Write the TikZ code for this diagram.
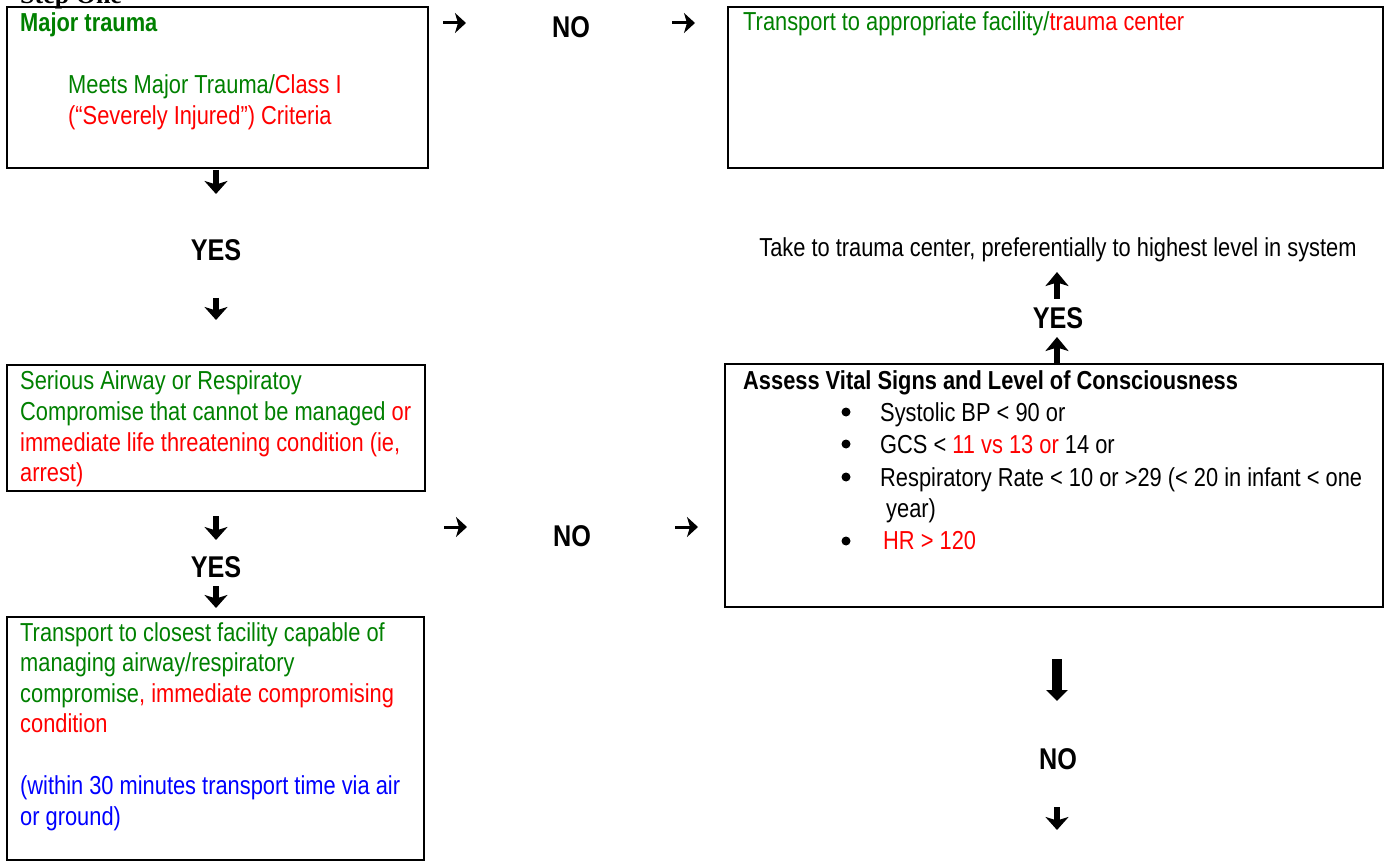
\documentclass[tikz,border=0pt]{standalone}
\usepackage{fontspec}
\setmainfont{Liberation Sans}[FakeStretch=0.84]
\newfontfamily\stepfont{Liberation Serif}[BoldFont={Liberation Serif Bold}]
\usetikzlibrary{arrows.meta}
\definecolor{tgreen}{RGB}{0,128,0}
\definecolor{tred}{RGB}{255,0,0}
\definecolor{tblue}{RGB}{0,0,255}
\tikzset{
  box/.style={draw=black, line width=2pt},
  txt/.style={anchor=base west, inner sep=0pt, font=\fontsize{26}{31}\selectfont},
  ctxt/.style={anchor=base, inner sep=0pt, font=\fontsize{26}{31}\selectfont},
  lbl/.style={anchor=base, inner sep=0pt, font=\fontsize{30}{34}\selectfont\bfseries},
  darr/.style={line width=5.5pt, -{Stealth[length=13pt,width=23pt,inset=3.5pt]}},
  harr/.style={line width=3pt, -{Stealth[length=11pt,width=20pt,inset=3pt]}},
  uarr/.style={line width=6.5pt, -{Stealth[length=14pt,width=23pt,inset=3.5pt]}},
  bigarr/.style={line width=10pt, -{Triangle[length=11pt,width=21pt]}},
  bullet/.style={circle, fill=black, inner sep=0pt, minimum size=9pt},
}
\begin{document}
\begin{tikzpicture}[x=1pt,y=-1pt]
\useasboundingbox (0,0) rectangle (1385,861);
\clip (0,0) rectangle (1385,861);
% Step One (cut off at top)
\node[anchor=base west, inner sep=0pt, font=\fontsize{26}{31}\stepfont\bfseries] (step) at (20,4) {Step One};
% Box 1
\draw[box] (7,7) rectangle (428,168);
\node[txt, font=\fontsize{26}{31}\selectfont\bfseries, text=tgreen] (b1h) at (20,32) {Major trauma};
\node[txt] (b1a) at (68,94) {\textcolor{tgreen}{Meets Major Trauma/}\textcolor{tred}{Class I}};
\node[txt, text=tred] (b1b) at (68,125) {(“Severely Injured”) Criteria};
% top NO row
\coordinate (h1s) at (443,23); \coordinate (h1e) at (466,23);
\draw[harr] (h1s) -- (h1e);
\node[lbl] (no1) at (571,38) {NO};
\coordinate (h2s) at (672,23); \coordinate (h2e) at (695,23);
\draw[harr] (h2s) -- (h2e);
% Box 2
\draw[box] (728,7) rectangle (1383,168);
\node[txt] (b2) at (743,31) {\textcolor{tgreen}{Transport to appropriate facility/}\textcolor{tred}{trauma center}};
% left column YES
\coordinate (d1s) at (216,170); \coordinate (d1e) at (216,194);
\draw[darr] (d1s) -- (d1e);
\node[lbl] (yes1) at (216,261) {YES};
\coordinate (d2s) at (216,298); \coordinate (d2e) at (216,320);
\draw[darr] (d2s) -- (d2e);
% Box 3
\draw[box] (7,365) rectangle (425,491);
\node[txt, text=tgreen] (b3a) at (20,389) {Serious Airway or Respiratoy};
\node[txt] (b3b) at (20,420) {\textcolor{tgreen}{Compromise that cannot be managed} \textcolor{tred}{or}};
\node[txt, text=tred] (b3c) at (20,451) {immediate life threatening condition (ie,};
\node[txt, text=tred] (b3d) at (20,481) {arrest)};
% lower YES / NO row
\coordinate (d3s) at (216,516); \coordinate (d3e) at (216,540);
\draw[darr] (d3s) -- (d3e);
\node[lbl] (yes2) at (216,577) {YES};
\coordinate (d4s) at (216,586); \coordinate (d4e) at (216,608);
\draw[darr] (d4s) -- (d4e);
\coordinate (h3s) at (444,527); \coordinate (h3e) at (467,527);
\draw[harr] (h3s) -- (h3e);
\node[lbl] (no2) at (572,546) {NO};
\coordinate (h4s) at (675,527); \coordinate (h4e) at (698,527);
\draw[harr] (h4s) -- (h4e);
% Box 4
\draw[box] (7,617) rectangle (424,860);
\node[txt, text=tgreen] (b4a) at (20,641) {Transport to closest facility capable of};
\node[txt, text=tgreen] (b4b) at (20,671) {managing airway/respiratory};
\node[txt] (b4c) at (20,702) {\textcolor{tgreen}{compromise}\textcolor{tred}{, immediate compromising}};
\node[txt, text=tred] (b4d) at (20,732) {condition};
\node[txt, text=tblue] (b4e) at (20,794) {(within 30 minutes transport time via air};
\node[txt, text=tblue] (b4f) at (20,825) {or ground)};
% right column
\node[ctxt] (take) at (1058,257) {Take to trauma center, preferentially to highest level in system};
\coordinate (u1s) at (1057,299); \coordinate (u1e) at (1057,272);
\draw[uarr] (u1s) -- (u1e);
\node[lbl] (yes3) at (1058,328) {YES};
\coordinate (u2s) at (1057,365); \coordinate (u2e) at (1057,337);
\draw[uarr] (u2s) -- (u2e);
% Box 5
\draw[box] (725,364) rectangle (1383,607);
\node[txt, font=\fontsize{26}{31}\selectfont\bfseries] (b5h) at (743,389) {Assess Vital Signs and Level of Consciousness};
\node[bullet] (p1) at (846,412) {};
\node[txt] (b5a) at (880,421) {Systolic BP < 90 or};
\node[bullet] (p2) at (846,444) {};
\node[txt] (b5b) at (880,453) {GCS < \textcolor{tred}{11 vs 13 or} 14 or};
\node[bullet] (p3) at (846,477) {};
\node[txt] (b5c) at (880,486) {Respiratory Rate < 10 or >29 (< 20 in infant < one};
\node[txt] (b5d) at (886,517) {year)};
\node[bullet] (p4) at (846,541) {};
\node[txt, text=tred] (b5e) at (883,549) {HR > 120};
% bottom right
\coordinate (bs) at (1057,659); \coordinate (be) at (1057,701);
\draw[bigarr] (bs) -- (be);
\node[lbl] (no3) at (1058,769) {NO};
\coordinate (d5s) at (1057,807); \coordinate (d5e) at (1057,830);
\draw[darr] (d5s) -- (d5e);
\end{tikzpicture}
\end{document}
